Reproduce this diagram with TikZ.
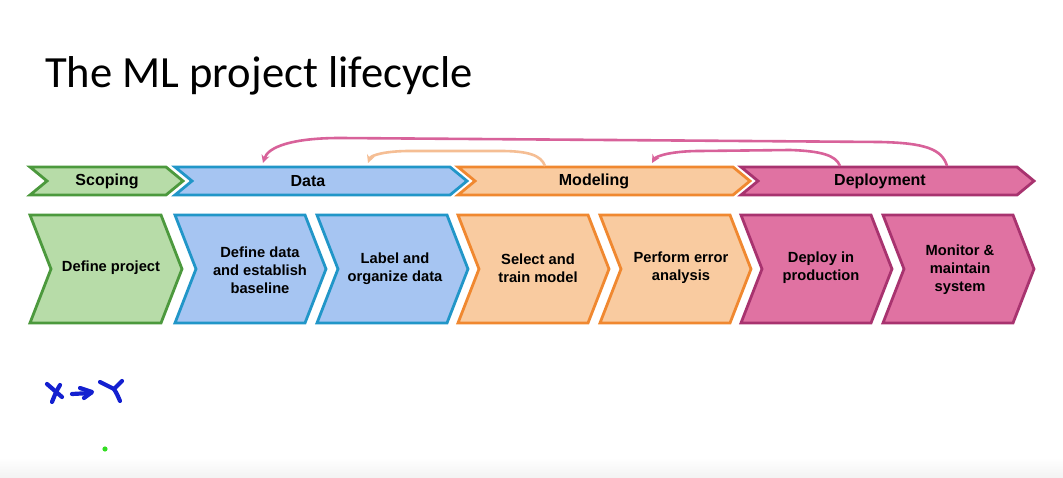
\documentclass[tikz,border=0pt]{standalone}
\usepackage{fontspec}
\setmainfont{Liberation Sans}
\newfontfamily\titlefont{Carlito}
\usetikzlibrary{arrows.meta}

% phase colours
\definecolor{scopefill}{HTML}{B7DCA8}
\definecolor{scopeline}{HTML}{4C993D}
\definecolor{datafill}{HTML}{A6C5F2}
\definecolor{dataline}{HTML}{2196C8}
\definecolor{modelfill}{HTML}{F9CBA0}
\definecolor{modelline}{HTML}{F08830}
\definecolor{deployfill}{HTML}{E072A2}
\definecolor{deployline}{HTML}{A8336F}
\definecolor{loopPink}{HTML}{D8629A}
\definecolor{loopPeach}{HTML}{F5BE94}
\definecolor{inkblue}{HTML}{1420D0}
\definecolor{dotgreen}{HTML}{33DD22}

% chevron outline: style, left x, top y, width, height, point depth
\newcommand{\chevshape}[6]{%
  \path[#1] (#2,#3) -- ({#2+#4-#6},#3) -- ({#2+#4},{#3+#5/2})
    -- ({#2+#4-#6},{#3+#5}) -- (#2,{#3+#5}) -- ({#2+#6},{#3+#5/2}) -- cycle;}

\tikzset{
  scope chev/.style={fill=scopefill, draw=scopeline, line width=2.8pt, line join=miter},
  data chev/.style={fill=datafill, draw=dataline, line width=2.8pt, line join=miter},
  model chev/.style={fill=modelfill, draw=modelline, line width=2.8pt, line join=miter},
  deploy chev/.style={fill=deployfill, draw=deployline, line width=2.8pt, line join=miter},
  phasetext/.style={font=\bfseries\fontsize{16}{18}\selectfont, inner sep=0pt},
  steptext/.style={font=\bfseries\fontsize{14.7}{18}\selectfont, align=center, inner sep=0pt},
  loop/.style={line width=2.6pt, -{Stealth[length=8pt,width=8pt]}},
  ink/.style={draw=inkblue, line width=4.2pt, line cap=round, line join=round}
}

\begin{document}
\begin{tikzpicture}[x=1pt, y=-1pt]
  % page
  \fill[white] (0,0) rectangle (1063,478);
  \shade[top color=white, bottom color=black!5, draw=none] (0,458) rectangle (1063,478);
  \useasboundingbox (0,0) rectangle (1063,478);

  % title
  \node[anchor=base west, inner sep=0pt, font=\titlefont\fontsize{44.6}{50}\selectfont] (title) at (45,88) {The ML project lifecycle};

  % phase banners
  \chevshape{scope chev}{30}{167}{153}{28}{17}
  \chevshape{data chev}{175}{167}{292}{28}{17}
  \chevshape{model chev}{458}{167}{292}{28}{17}
  \chevshape{deploy chev}{741}{167}{293}{28}{17}
  \node[phasetext] (scoping) at (107,181) {Scoping};
  \node[phasetext] (data) at (308,181) {Data};
  \node[phasetext] (modeling) at (594,181) {Modeling};
  \node[phasetext] (deployment) at (880,181) {Deployment};

  % steps
  \chevshape{scope chev}{30}{215}{152}{108}{21}
  \chevshape{data chev}{175}{215}{151}{108}{21}
  \chevshape{data chev}{317}{215}{151}{108}{21}
  \chevshape{model chev}{458}{215}{151}{108}{21}
  \chevshape{model chev}{600}{215}{151}{108}{21}
  \chevshape{deploy chev}{741}{215}{151}{108}{21}
  \chevshape{deploy chev}{883}{215}{151}{108}{21}
  \node[steptext] (defproj) at (111,268) {Define project};
  \node[steptext] (defdata) at (260,270) {Define data\\and establish\\baseline};
  \node[steptext] (label) at (395,269) {Label and\\organize data};
  \node[steptext] (train) at (538,268) {Select and\\train model};
  \node[steptext] (erran) at (681,268) {Perform error\\analysis};
  \node[steptext] (deployprod) at (821,268) {Deploy in\\production};
  \node[steptext] (monitor) at (960,270) {Monitor \&\\maintain\\system};

  % feedback loops between phases
  \coordinate (deployA) at (947,166);
  \coordinate (deployB) at (840,166);
  \coordinate (modelA) at (545,166);
  \coordinate (dataA) at (263,163);
  \coordinate (dataB) at (368,163);
  \coordinate (modelB) at (652,163);
  \draw[loop, draw=loopPink] (deployA) .. controls (942,149) and (925,143) .. (880,142)
    -- (340,138) .. controls (292,138) and (268,147) .. (dataA);
  \draw[loop, draw=loopPeach] (modelA) .. controls (541,155) and (528,151) .. (500,151)
    -- (410,151) .. controls (386,151) and (371,155) .. (dataB);
  \draw[loop, draw=loopPink] (deployB) .. controls (836,155) and (820,151) .. (790,150)
    -- (700,151) .. controls (672,151) and (656,156) .. (modelB);

  % handwritten note
  \draw[ink] (47,384) -- (62,397);
  \draw[ink] (60,385) .. controls (56,392) .. (52,402);
  \draw[ink] (72,394) -- (91,393);
  \draw[ink] (80,388) -- (92,392) -- (84,398);
  \draw[ink] (100,382) -- (114,389);
  \draw[ink] (122,381) -- (114,389) .. controls (117,394) .. (120,401);
  \fill[dotgreen] (105,449) circle (2.6);
\end{tikzpicture}
\end{document}
